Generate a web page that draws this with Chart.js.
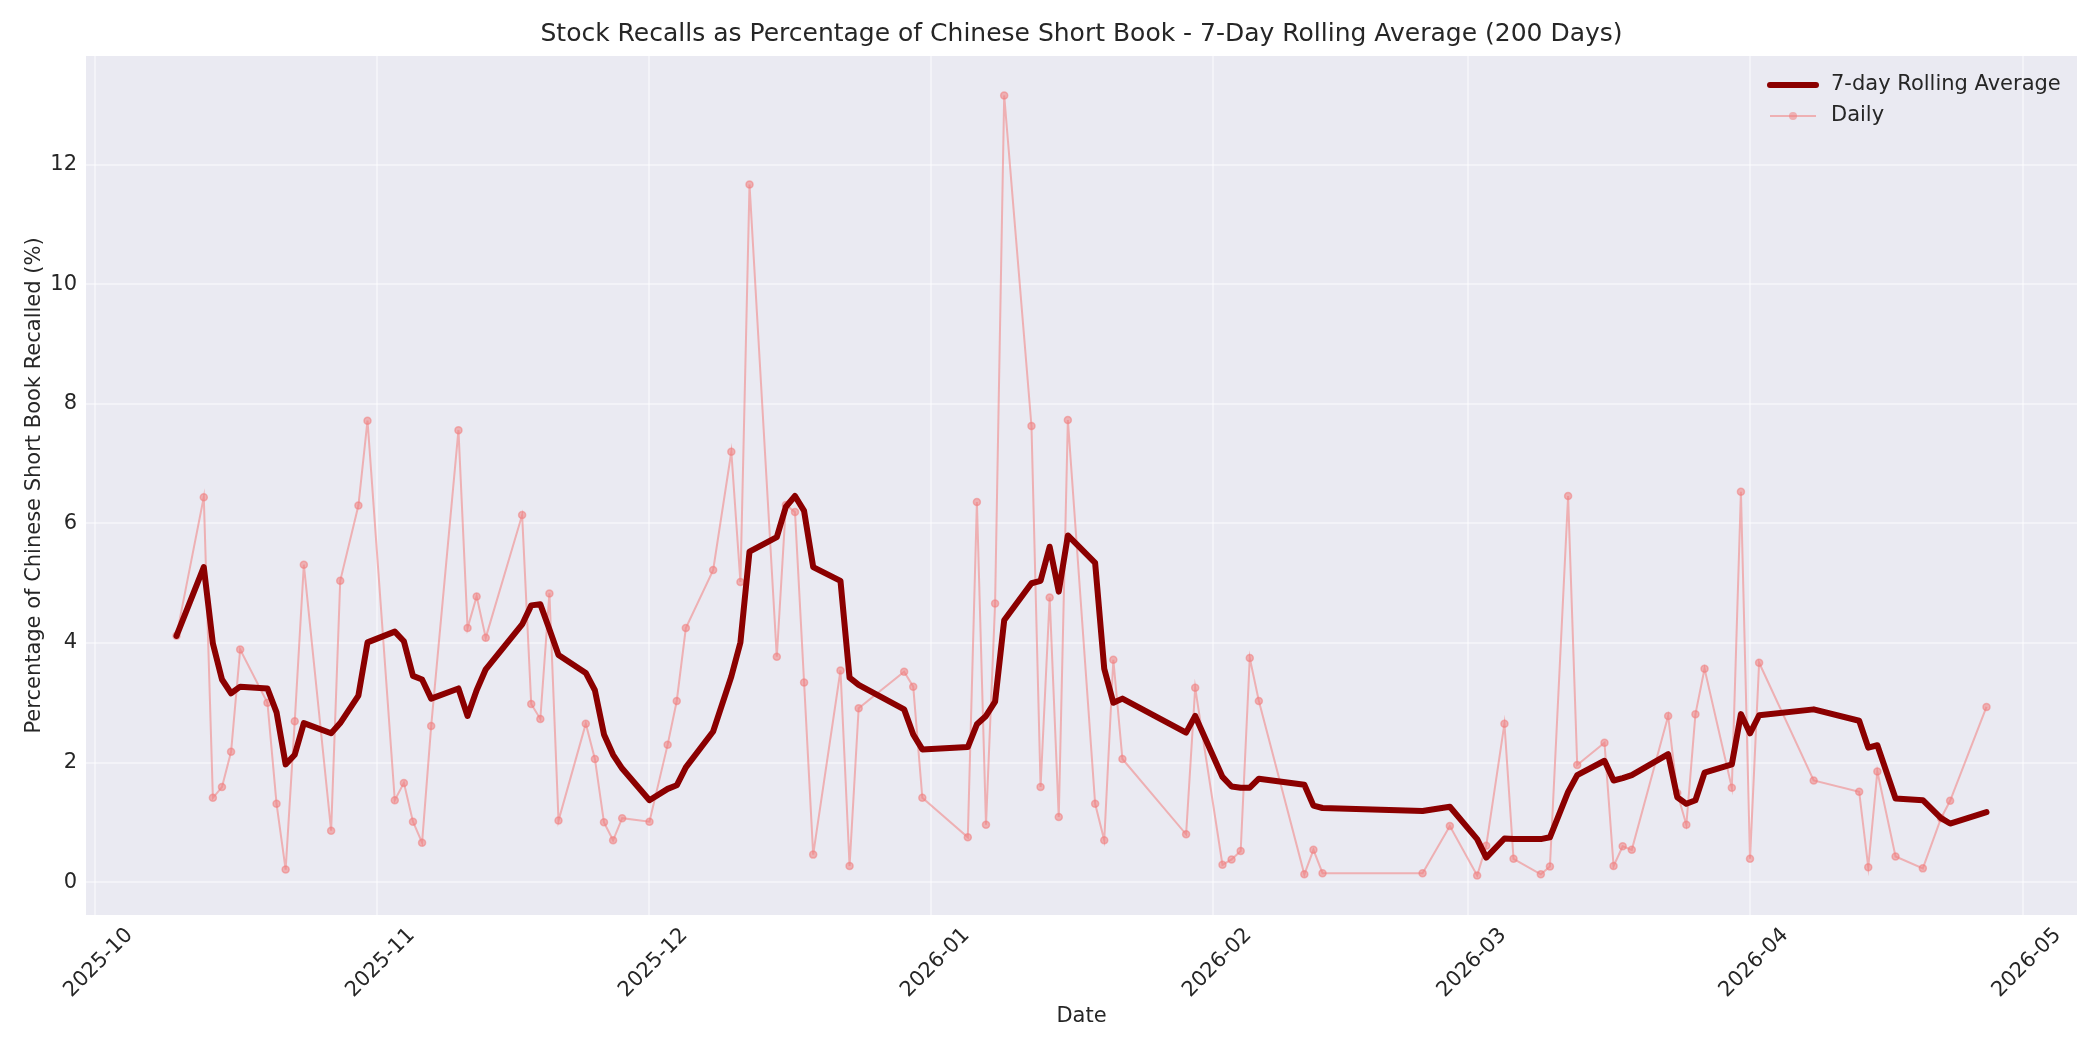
<!DOCTYPE html>
<html>
<head>
<meta charset="utf-8">
<title>Stock Recalls - Chinese Short Book</title>
<script src="https://cdn.jsdelivr.net/npm/chart.js@4.4.1/dist/chart.umd.min.js"></script>
<style>
  html, body { margin: 0; padding: 0; background: #ffffff; }
  #wrap { width: 2100px; height: 1050px; }
</style>
</head>
<body>
<div id="wrap"><canvas id="recallChart"></canvas></div>
<script>
// trading days shown on the chart
const dates = [
    '2025-10-10', '2025-10-13', '2025-10-14', '2025-10-15', '2025-10-16', '2025-10-17',
    '2025-10-20', '2025-10-21', '2025-10-22', '2025-10-23', '2025-10-24', '2025-10-27',
    '2025-10-28', '2025-10-30', '2025-10-31', '2025-11-03', '2025-11-04', '2025-11-05',
    '2025-11-06', '2025-11-07', '2025-11-10', '2025-11-11', '2025-11-12', '2025-11-13',
    '2025-11-17', '2025-11-18', '2025-11-19', '2025-11-20', '2025-11-21', '2025-11-24',
    '2025-11-25', '2025-11-26', '2025-11-27', '2025-11-28', '2025-12-01', '2025-12-03',
    '2025-12-04', '2025-12-05', '2025-12-08', '2025-12-10', '2025-12-11', '2025-12-12',
    '2025-12-15', '2025-12-16', '2025-12-17', '2025-12-18', '2025-12-19', '2025-12-22',
    '2025-12-23', '2025-12-24', '2025-12-29', '2025-12-30', '2025-12-31', '2026-01-05',
    '2026-01-06', '2026-01-07', '2026-01-08', '2026-01-09', '2026-01-12', '2026-01-13',
    '2026-01-14', '2026-01-15', '2026-01-16', '2026-01-19', '2026-01-20', '2026-01-21',
    '2026-01-22', '2026-01-29', '2026-01-30', '2026-02-02', '2026-02-03', '2026-02-04',
    '2026-02-05', '2026-02-06', '2026-02-11', '2026-02-12', '2026-02-13', '2026-02-24',
    '2026-02-27', '2026-03-02', '2026-03-03', '2026-03-05', '2026-03-06', '2026-03-09',
    '2026-03-10', '2026-03-12', '2026-03-13', '2026-03-16', '2026-03-17', '2026-03-18',
    '2026-03-19', '2026-03-23', '2026-03-24', '2026-03-25', '2026-03-26', '2026-03-27',
    '2026-03-30', '2026-03-31', '2026-04-01', '2026-04-02', '2026-04-08', '2026-04-13',
    '2026-04-14', '2026-04-15', '2026-04-17', '2026-04-20', '2026-04-22', '2026-04-23',
    '2026-04-27'
];

// daily recalls, % of short book
const dailyPct = [
    4.12, 6.44, 1.41, 1.59, 2.18, 3.89,
    3.00, 1.31, 0.21, 2.69, 5.31, 0.86,
    5.04, 6.30, 7.72, 1.37, 1.66, 1.01,
    0.66, 2.61, 7.56, 4.25, 4.78, 4.09,
    6.14, 2.98, 2.73, 4.83, 1.03, 2.65,
    2.06, 1.00, 0.70, 1.07, 1.01, 2.30,
    3.03, 4.25, 5.22, 7.20, 5.02, 11.67,
    3.77, 6.31, 6.19, 3.34, 0.46, 3.54,
    0.27, 2.91, 3.52, 3.27, 1.41, 0.75,
    6.36, 0.96, 4.66, 13.16, 7.63, 1.59,
    4.76, 1.09, 7.73, 1.31, 0.70, 3.72,
    2.06, 0.80, 3.25, 0.29, 0.38, 0.52,
    3.75, 3.03, 0.13, 0.54, 0.15, 0.15,
    0.94, 0.11, 0.61, 2.65, 0.39, 0.13,
    0.26, 6.46, 1.96, 2.33, 0.27, 0.60,
    0.54, 2.78, 1.49, 0.96, 2.81, 3.57,
    1.58, 6.53, 0.39, 3.67, 1.70, 1.51,
    0.25, 1.85, 0.43, 0.23, 1.07, 1.36,
    2.93
];

// 7-day rolling average as plotted
const rollingPct = [
    4.12, 5.27, 3.99, 3.39, 3.16, 3.27,
    3.24, 2.84, 1.97, 2.13, 2.66, 2.49,
    2.66, 3.12, 4.01, 4.19, 4.03, 3.45,
    3.39, 3.07, 3.24, 2.78, 3.21, 3.56,
    4.31, 4.63, 4.65, 4.23, 3.80, 3.50,
    3.21, 2.47, 2.13, 1.90, 1.37, 1.56,
    1.62, 1.92, 2.52, 3.44, 4.01, 5.53,
    5.77, 6.28, 6.46, 6.21, 5.27, 5.04,
    3.42, 3.30, 2.89, 2.47, 2.22, 2.26,
    2.64, 2.78, 3.02, 4.38, 5.00, 5.04,
    5.61, 4.86, 5.80, 5.34, 3.57, 3.00,
    3.07, 2.50, 2.78, 1.76, 1.60, 1.58,
    1.58, 1.73, 1.63, 1.28, 1.24, 1.19,
    1.26, 0.72, 0.41, 0.73, 0.72, 0.72,
    0.75, 1.51, 1.79, 2.03, 1.70, 1.74,
    1.79, 2.14, 1.42, 1.31, 1.37, 1.83,
    1.97, 2.81, 2.49, 2.79, 2.89, 2.70,
    2.25, 2.29, 1.40, 1.37, 1.07, 0.98,
    1.17
];

const monthTicks = [
    '2025-10-01', '2025-11-01', '2025-12-01', '2026-01-01',
    '2026-02-01', '2026-03-01', '2026-04-01', '2026-05-01'
];
const yTicks = [0, 2, 4, 6, 8, 10, 12];

const TITLE = 'Stock Recalls as Percentage of Chinese Short Book - 7-Day Rolling Average (200 Days)';
const FONT = "'DejaVu Sans', 'Liberation Sans', sans-serif";
const TEXT = '#262626';
const ROLL_COLOR = '#8b0000';
const DAILY_COLOR = 'rgba(240, 128, 128, 0.55)';

const firstMs = Date.parse(dates[0]);
const lastMs = Date.parse(dates[dates.length - 1]);
const xPad = (lastMs - firstMs) * 0.05;

function monthLabel(ms) {
    const d = new Date(ms);
    return d.getUTCFullYear() + '-' + String(d.getUTCMonth() + 1).padStart(2, '0');
}

// grey plot panel like seaborn darkgrid
const plotBackground = {
    id: 'plotBackground',
    beforeDraw(chart) {
        const { ctx, chartArea: a } = chart;
        ctx.save();
        ctx.fillStyle = '#eaeaf2';
        ctx.fillRect(a.left, a.top, a.right - a.left, a.bottom - a.top);
        ctx.restore();
    }
};

// title centred over the plot area, not the whole canvas
const axesTitle = {
    id: 'axesTitle',
    afterDraw(chart) {
        const { ctx, chartArea: a } = chart;
        ctx.save();
        ctx.font = '25px ' + FONT;
        ctx.fillStyle = TEXT;
        ctx.textAlign = 'center';
        ctx.textBaseline = 'middle';
        ctx.fillText(TITLE, (a.left + a.right) / 2, a.top - 22);
        ctx.restore();
    }
};

// legend drawn inside the plot, upper right
const innerLegend = {
    id: 'innerLegend',
    afterDraw(chart) {
        const { ctx, chartArea: a } = chart;
        const x0 = a.right - 307;
        const x1 = a.right - 261;
        const tx = a.right - 246;
        const rows = [a.top + 29, a.top + 60];
        ctx.save();
        ctx.font = '21px ' + FONT;
        ctx.fillStyle = TEXT;
        ctx.textBaseline = 'middle';
        ctx.textAlign = 'left';

        ctx.strokeStyle = ROLL_COLOR;
        ctx.lineWidth = 6;
        ctx.lineCap = 'round';
        ctx.beginPath();
        ctx.moveTo(x0, rows[0]);
        ctx.lineTo(x1, rows[0]);
        ctx.stroke();
        ctx.fillText(chart.data.datasets[0].label, tx, rows[0]);

        ctx.strokeStyle = DAILY_COLOR;
        ctx.lineWidth = 2;
        ctx.lineCap = 'butt';
        ctx.beginPath();
        ctx.moveTo(x0, rows[1]);
        ctx.lineTo(x1, rows[1]);
        ctx.stroke();
        ctx.fillStyle = DAILY_COLOR;
        ctx.beginPath();
        ctx.arc((x0 + x1) / 2, rows[1], 4, 0, Math.PI * 2);
        ctx.fill();
        ctx.fillStyle = TEXT;
        ctx.fillText(chart.data.datasets[1].label, tx, rows[1]);
        ctx.restore();
    }
};

const ctx = document.getElementById('recallChart').getContext('2d');
new Chart(ctx, {
    type: 'line',
    data: {
        datasets: [
            {
                label: '7-day Rolling Average',
                data: dates.map((d, i) => ({ x: Date.parse(d), y: rollingPct[i] })),
                borderColor: ROLL_COLOR,
                borderWidth: 6,
                borderJoinStyle: 'round',
                borderCapStyle: 'round',
                pointRadius: 0,
                tension: 0
            },
            {
                label: 'Daily',
                data: dates.map((d, i) => ({ x: Date.parse(d), y: dailyPct[i] })),
                borderColor: DAILY_COLOR,
                borderWidth: 2,
                pointRadius: 3.5,
                pointBorderWidth: 1.5,
                pointBackgroundColor: DAILY_COLOR,
                pointBorderColor: DAILY_COLOR,
                tension: 0
            }
        ]
    },
    options: {
        responsive: true,
        maintainAspectRatio: false,
        devicePixelRatio: 1,
        animation: false,
        layout: { padding: { top: 56, right: 23 } },
        plugins: {
            legend: { display: false },
            tooltip: { enabled: false },
            title: { display: false }
        },
        scales: {
            x: {
                type: 'linear',
                min: firstMs - xPad,
                max: lastMs + xPad,
                afterBuildTicks: (scale) => {
                    scale.ticks = monthTicks.map(m => ({ value: Date.parse(m) }));
                },
                afterFit: (scale) => { scale.height = 135; },
                ticks: {
                    callback: (v) => monthLabel(v),
                    color: TEXT,
                    font: { family: FONT, size: 21 },
                    minRotation: 45,
                    maxRotation: 45,
                    padding: 8,
                    labelOffset: 35
                },
                grid: { color: 'rgba(255,255,255,0.45)', lineWidth: 2, drawTicks: false },
                border: { display: false },
                title: {
                    display: true,
                    text: 'Date',
                    color: TEXT,
                    font: { family: FONT, size: 21 },
                    padding: { top: 0, bottom: 21 }
                }
            },
            y: {
                min: -0.55,
                max: 13.82,
                afterBuildTicks: (scale) => {
                    scale.ticks = yTicks.map(v => ({ value: v }));
                },
                afterFit: (scale) => { scale.width = 86; },
                ticks: {
                    color: TEXT,
                    font: { family: FONT, size: 21 },
                    padding: 9
                },
                grid: { color: 'rgba(255,255,255,0.45)', lineWidth: 2, drawTicks: false },
                border: { display: false },
                title: {
                    display: true,
                    text: 'Percentage of Chinese Short Book Recalled (%)',
                    color: TEXT,
                    font: { family: FONT, size: 21 },
                    padding: { top: 22, bottom: 0 }
                }
            }
        }
    },
    plugins: [plotBackground, axesTitle, innerLegend]
});
</script>
</body>
</html>
